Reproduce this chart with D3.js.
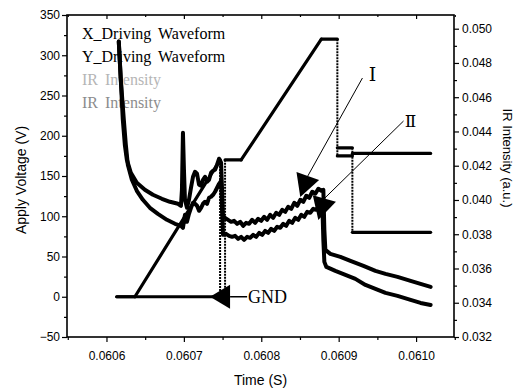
<!DOCTYPE html>
<html>
<head>
<meta charset="utf-8">
<script src="https://cdn.jsdelivr.net/npm/d3@7"></script>
<style>
  html, body { margin: 0; padding: 0; background: #fff; }
  svg { display: block; }
  .tick text { font-family: "Liberation Sans", Arial, sans-serif; font-size: 12px; fill: #000; }
  .tick line { stroke: #000; stroke-width: 1.2; }
</style>
</head>
<body>
<svg id="chart" width="529" height="390"></svg>
<script>
// ---- Driving waveforms (time in s, voltage in V; null breaks the trace) ----
const xDriveTime = [0.0606133, 0.0606367, 0.0607468, 0.0607468, 0.0608983, 0.0608983, 0.0609177, 0.0609177, 0.0610188];
const xDriveVolt = [0, 0, 170, 0, null, 185, 185, 80, 80];

const yDriveTime = [0.0606133, 0.0607532, 0.0607532, 0.0607740, 0.0608776, 0.0608983, 0.0608983, 0.0609177, 0.0609177, 0.0610188];
const yDriveVolt = [0, 0, 170, 170, 320, 320, 175, 175, 178, 178];

// ---- IR intensity traces (a.u., right axis) ----
const irUpperTime = [
  0.0606159, 0.0606185, 0.0606211, 0.0606237, 0.0606263, 0.0606315, 0.0606392, 0.0606496, 0.0606600, 0.0606716,
  0.0606820, 0.0606924, 0.0606962, 0.0606975, 0.0606988, 0.0607001, 0.0607014, 0.0607040, 0.0607066, 0.0607092,
  0.0607118, 0.0607144, 0.0607170, 0.0607196, 0.0607222, 0.0607247, 0.0607273, 0.0607299, 0.0607325, 0.0607351,
  0.0607377, 0.0607403, 0.0607429, 0.0607455, 0.0607481, 0.0607493, 0.0607506, 0.0607532, 0.0607571, 0.0607610,
  0.0607649, 0.0607688, 0.0607727, 0.0607766, 0.0607804, 0.0607843, 0.0607882, 0.0607921, 0.0607960, 0.0607999,
  0.0608038, 0.0608076, 0.0608115, 0.0608154, 0.0608193, 0.0608232, 0.0608271, 0.0608310, 0.0608348, 0.0608387,
  0.0608426, 0.0608465, 0.0608504, 0.0608543, 0.0608582, 0.0608620, 0.0608659, 0.0608698, 0.0608737, 0.0608776,
  0.0608802, 0.0608815, 0.0608828, 0.0608892, 0.0609022, 0.0609152, 0.0609320, 0.0609475, 0.0609605, 0.0609760,
  0.0609929, 0.0610058, 0.0610188
];
const irUpperValue = [
  0.049251, 0.047029, 0.044690, 0.043228, 0.042351, 0.041591, 0.041006, 0.040596, 0.040304, 0.040070,
  0.039895, 0.039778, 0.039661, 0.040596, 0.043930, 0.041766, 0.040012, 0.039544, 0.040012, 0.040713,
  0.041357, 0.041649, 0.041532, 0.040889, 0.040830, 0.041181, 0.041357, 0.041064, 0.041181, 0.041591,
  0.041708, 0.041766, 0.042058, 0.042409, 0.042175, 0.040596, 0.038959, 0.038959, 0.038842, 0.038725,
  0.038784, 0.038608, 0.038725, 0.038491, 0.038667, 0.038608, 0.038842, 0.038667, 0.038901, 0.038784,
  0.039018, 0.038842, 0.039135, 0.038959, 0.039251, 0.039135, 0.039427, 0.039310, 0.039602, 0.039485,
  0.039836, 0.039661, 0.040012, 0.039895, 0.040246, 0.040129, 0.040480, 0.040363, 0.040655, 0.040538,
  0.040596, 0.038257, 0.037088, 0.036854, 0.036678, 0.036444, 0.036152, 0.035860, 0.035684, 0.035509,
  0.035275, 0.035099, 0.034924
];

const irLowerTime = [
  0.0606159, 0.0606185, 0.0606224, 0.0606250, 0.0606276, 0.0606328, 0.0606392, 0.0606470, 0.0606561, 0.0606664,
  0.0606781, 0.0606885, 0.0606962, 0.0606988, 0.0607014, 0.0607040, 0.0607066, 0.0607092, 0.0607118, 0.0607144,
  0.0607170, 0.0607196, 0.0607222, 0.0607247, 0.0607273, 0.0607299, 0.0607325, 0.0607351, 0.0607377, 0.0607403,
  0.0607429, 0.0607455, 0.0607481, 0.0607493, 0.0607506, 0.0607545, 0.0607584, 0.0607623, 0.0607662, 0.0607701,
  0.0607740, 0.0607778, 0.0607817, 0.0607856, 0.0607895, 0.0607934, 0.0607973, 0.0608012, 0.0608050, 0.0608089,
  0.0608128, 0.0608167, 0.0608206, 0.0608245, 0.0608284, 0.0608322, 0.0608361, 0.0608400, 0.0608439, 0.0608478,
  0.0608517, 0.0608556, 0.0608594, 0.0608633, 0.0608672, 0.0608711, 0.0608750, 0.0608789, 0.0608802, 0.0608815,
  0.0608841, 0.0608957, 0.0609087, 0.0609216, 0.0609346, 0.0609475, 0.0609605, 0.0609760, 0.0609929, 0.0610058,
  0.0610188
];
const irLowerValue = [
  0.049251, 0.047029, 0.044690, 0.043228, 0.042058, 0.041181, 0.040538, 0.040012, 0.039544, 0.039193,
  0.038842, 0.038608, 0.038491, 0.038374, 0.039135, 0.038725, 0.039193, 0.039544, 0.039836, 0.039778,
  0.039661, 0.039368, 0.039544, 0.039778, 0.039895, 0.039778, 0.040129, 0.040187, 0.040304, 0.040480,
  0.040713, 0.040947, 0.041123, 0.039427, 0.037965, 0.038023, 0.037906, 0.037848, 0.037906, 0.037731,
  0.037848, 0.037673, 0.037848, 0.037789, 0.037965, 0.037848, 0.038082, 0.037965, 0.038199, 0.038082,
  0.038316, 0.038199, 0.038433, 0.038374, 0.038608, 0.038491, 0.038784, 0.038667, 0.038959, 0.038842,
  0.039135, 0.039018, 0.039310, 0.039251, 0.039485, 0.039427, 0.039661, 0.039719, 0.037673, 0.036386,
  0.036094, 0.035860, 0.035626, 0.035392, 0.035041, 0.034807, 0.034573, 0.034398, 0.034164, 0.033988,
  0.033871
];

// ---- Tick values ----
const timeTicks = [0.0606, 0.0607, 0.0608, 0.0609, 0.0610];
const timeMinorTicks = [0.06055, 0.06065, 0.06075, 0.06085, 0.06095, 0.06105];
const voltTicks = [-50, 0, 50, 100, 150, 200, 250, 300, 350];
const voltMinorTicks = [-25, 25, 75, 125, 175, 225, 275, 325];
const irTicks = [0.032, 0.034, 0.036, 0.038, 0.040, 0.042, 0.044, 0.046, 0.048, 0.050];
const irMinorTicks = [0.033, 0.035, 0.037, 0.039, 0.041, 0.043, 0.045, 0.047, 0.049];

// ---- Legend entries and annotations ----
const legendLabels = ["X_Driving Waveform", "Y_Driving Waveform", "IR Intensity", "IR Intensity"];
const legendColors = ["#000", "#000", "#b5b5b5", "#8c8c8c"];

const annotations = [
  { text: "Ⅰ", size: 19, labelT: 0.0609436, labelV: 268, fromT: 0.0609307, fromV: 271.7, baseT: 0.0608601, baseV: 150, tipT: 0.0608504, tipV: 123.9, half: 12, anchor: "middle" },
  { text: "Ⅱ", size: 17, labelT: 0.0609929, labelV: 210.9, fromT: 0.0609838, fromV: 218.3, baseT: 0.0608815, baseV: 122, tipT: 0.0608737, tipV: 95.3, half: 12, anchor: "middle" },
  { text: "GND", size: 18, labelT: 0.0607830, labelV: -7.8, fromT: 0.0607817, fromV: 0, baseT: 0.0607597, baseV: 0, tipT: 0.0607338, tipV: 0, half: 12, anchor: "start" }
];

// ---- Layout & scales ----
const plot = { left: 67, right: 454, top: 15, bottom: 337 };
const svg = d3.select("#chart");

const x = d3.scaleLinear().domain([0.060549, 0.061049]).range([plot.left, plot.right]);
const yL = d3.scaleLinear().domain([-50, 350]).range([plot.bottom, plot.top]);
const yR = d3.scaleLinear().domain([0.032, 0.0508]).range([plot.bottom, plot.top]);

// ---- Axes ----
function axisGroup(axis, tx, ty) {
  const g = svg.append("g").attr("transform", `translate(${tx},${ty})`).call(axis);
  g.select(".domain").remove();
  return g;
}
axisGroup(d3.axisBottom(x).tickValues(timeTicks).tickSize(5).tickPadding(9).tickFormat(d3.format(".4f")), 0, plot.bottom);
axisGroup(d3.axisBottom(x).tickValues(timeMinorTicks).tickSize(3).tickFormat(""), 0, plot.bottom);
axisGroup(d3.axisTop(x).tickValues(timeTicks).tickSize(-4).tickFormat(""), 0, plot.top);
axisGroup(d3.axisTop(x).tickValues(timeMinorTicks).tickSize(-2).tickFormat(""), 0, plot.top);

axisGroup(d3.axisLeft(yL).tickValues(voltTicks).tickSize(5).tickPadding(2).tickFormat(d3.format("d")), plot.left, 0);
axisGroup(d3.axisLeft(yL).tickValues(voltMinorTicks).tickSize(3).tickFormat(""), plot.left, 0);

axisGroup(d3.axisRight(yR).tickValues(irTicks).tickSize(5).tickPadding(3).tickFormat(d3.format(".3f")), plot.right, 0);
axisGroup(d3.axisRight(yR).tickValues(irMinorTicks).tickSize(3).tickFormat(""), plot.right, 0);

// frame
svg.append("rect")
  .attr("x", plot.left).attr("y", plot.top)
  .attr("width", plot.right - plot.left).attr("height", plot.bottom - plot.top)
  .attr("fill", "none").attr("stroke", "#000").attr("stroke-width", 1.6);

// axis titles
const sans = '"Liberation Sans", Arial, sans-serif';
svg.append("text").attr("transform", "translate(25.5,180) rotate(-90)")
  .attr("text-anchor", "middle").attr("font-family", sans).attr("font-size", 14)
  .text("Apply Voltage (V)");
svg.append("text").attr("transform", "translate(502.5,158) rotate(90)")
  .attr("text-anchor", "middle").attr("font-family", sans).attr("font-size", 13)
  .text("IR Intensity (a.u.)");
svg.append("text").attr("x", (plot.left + plot.right) / 2).attr("y", 385)
  .attr("text-anchor", "middle").attr("font-family", sans).attr("font-size", 14)
  .text("Time (S)");

// ---- Legend ----
const serif = '"Liberation Serif", "Times New Roman", serif';
svg.append("g").selectAll("text").data(legendLabels).join("text")
  .attr("x", 82).attr("y", (d, i) => 39 + i * 23)
  .attr("font-family", serif).attr("font-size", 16).attr("word-spacing", 3)
  .attr("fill", (d, i) => legendColors[i])
  .text(d => d);

// ---- Waveforms: steep transitions drawn as thin dotted strokes ----
const waveLayer = svg.append("g");
function drawWave(times, volts) {
  for (let i = 1; i < times.length; i++) {
    const v0 = volts[i - 1], v1 = volts[i];
    if (v0 == null || v1 == null) continue;
    const vertical = times[i] === times[i - 1];
    waveLayer.append("line")
      .attr("x1", x(times[i - 1])).attr("y1", yL(v0))
      .attr("x2", x(times[i])).attr("y2", yL(v1))
      .attr("stroke", "#000")
      .attr("stroke-width", vertical ? 2 : 3.2)
      .attr("stroke-dasharray", vertical ? "2,1" : null)
      .attr("stroke-linecap", vertical ? "butt" : "round");
  }
}
drawWave(xDriveTime, xDriveVolt);
drawWave(yDriveTime, yDriveVolt);

// ---- IR traces ----
const irLine = d3.line().x(d => x(d[0])).y(d => yR(d[1]));
[[irUpperTime, irUpperValue], [irLowerTime, irLowerValue]].forEach(([t, v]) => {
  svg.append("path")
    .attr("d", irLine(t.map((tt, i) => [tt, v[i]])))
    .attr("fill", "none").attr("stroke", "#000")
    .attr("stroke-width", 4).attr("stroke-linejoin", "round").attr("stroke-linecap", "round");
});

// ---- Annotation arrows ----
const annLayer = svg.append("g");
annotations.forEach(a => {
  const fx = x(a.fromT), fy = yL(a.fromV);
  const bx = x(a.baseT), by = yL(a.baseV);
  const tx = x(a.tipT), ty = yL(a.tipV);
  annLayer.append("line").attr("x1", fx).attr("y1", fy).attr("x2", bx).attr("y2", by)
    .attr("stroke", "#000").attr("stroke-width", a.text === "GND" ? 1.5 : 1);
  const dx = tx - bx, dy = ty - by, len = Math.hypot(dx, dy);
  const px = -dy / len * a.half, py = dx / len * a.half;
  annLayer.append("path")
    .attr("d", `M${bx + px},${by + py}L${tx},${ty}L${bx - px},${by - py}Z`)
    .attr("fill", "#000");
  annLayer.append("text")
    .attr("x", x(a.labelT)).attr("y", yL(a.labelV))
    .attr("text-anchor", a.anchor)
    .attr("font-family", a.text === "GND" ? serif : '"DejaVu Serif", "Noto Sans CJK SC", serif')
    .attr("font-size", a.size)
    .text(a.text);
});
</script>
</body>
</html>
